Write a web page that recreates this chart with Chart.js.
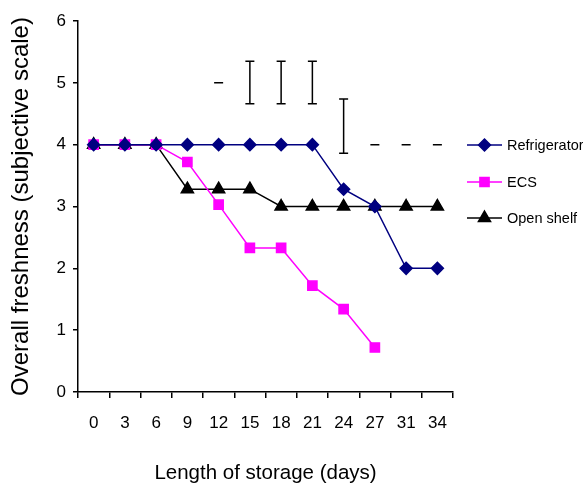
<!DOCTYPE html>
<html>
<head>
<meta charset="utf-8">
<script src="https://cdn.jsdelivr.net/npm/chart.js@4/dist/chart.umd.min.js"></script>
<style>
  body { margin: 0; background: #fff; }
  #wrap { width: 583px; height: 486px; }
</style>
</head>
<body>
<div id="wrap"><canvas id="chart"></canvas></div>
<script>
// storage days (x categories)
const days = ['0', '3', '6', '9', '12', '15', '18', '21', '24', '27', '31', '34'];

const refrigerator = [4, 4, 4, 4, 4, 4, 4, 4, 3.28, 3, 2, 2];
const ecs = [4, 4, 4, 3.72, 3.03, 2.33, 2.33, 1.72, 1.34, 0.72, null, null];
const openShelf = [4, 4, 4, 3.28, 3.28, 3.28, 3, 3, 3, 3, 3, 3];

// error bars drawn above the lines
const errLow = [null, null, null, null, 5, 4.66, 4.66, 4.66, 3.86, 4, 4, 4];
const errHigh = [null, null, null, null, 5, 5.35, 5.35, 5.35, 4.74, 4, 4, 4];

const sans = "'Liberation Sans', Arial, sans-serif";

const errorBars = {
  id: 'errorBars',
  afterDatasetsDraw(chart) {
    const ctx = chart.ctx;
    const xs = chart.scales.x, ys = chart.scales.y;
    ctx.save();
    ctx.strokeStyle = '#000';
    ctx.lineWidth = 1.5;
    for (let i = 0; i < days.length; i++) {
      if (errLow[i] == null) continue;
      const x = xs.getPixelForValue(i);
      const top = ys.getPixelForValue(errHigh[i]);
      const bot = ys.getPixelForValue(errLow[i]);
      ctx.beginPath();
      ctx.moveTo(x, top); ctx.lineTo(x, bot);
      ctx.moveTo(x - 4.5, top); ctx.lineTo(x + 4.5, top);
      ctx.moveTo(x - 4.5, bot); ctx.lineTo(x + 4.5, bot);
      ctx.stroke();
    }
    ctx.restore();
  }
};

// legend to the right of the plot, line + marker + label
const sideLegend = {
  id: 'sideLegend',
  afterDraw(chart) {
    const ctx = chart.ctx;
    const rows = [145, 182, 218];
    ctx.save();
    chart.data.datasets.forEach((ds, k) => {
      const y = rows[k];
      ctx.strokeStyle = ds.borderColor;
      ctx.lineWidth = ds.borderWidth;
      ctx.beginPath();
      ctx.moveTo(467, y); ctx.lineTo(502, y);
      ctx.stroke();
      ctx.fillStyle = ds.backgroundColor;
      ctx.strokeStyle = ds.borderColor;
      Chart.helpers.drawPoint(ctx, {
        pointStyle: ds.pointStyle, radius: ds.pointRadius, rotation: 0, borderWidth: 1
      }, 484.5, y);
      ctx.fillStyle = '#000';
      ctx.font = '14.5px ' + sans;
      ctx.textBaseline = 'middle';
      ctx.textAlign = 'left';
      ctx.fillText(ds.label, 507, y + 1);
    });
    ctx.restore();
  }
};

new Chart(document.getElementById('chart'), {
  type: 'line',
  data: {
    labels: days,
    datasets: [
      {
        label: 'Refrigerator',
        data: refrigerator,
        borderColor: '#000080',
        backgroundColor: '#000080',
        borderWidth: 1.5,
        pointStyle: 'rectRot',
        pointRadius: 6,
        tension: 0
      },
      {
        label: 'ECS',
        data: ecs,
        borderColor: '#FF00FF',
        backgroundColor: '#FF00FF',
        borderWidth: 1.5,
        pointStyle: 'rect',
        pointRadius: 6.5,
        tension: 0
      },
      {
        label: 'Open shelf',
        data: openShelf,
        borderColor: '#000000',
        backgroundColor: '#000000',
        borderWidth: 1.5,
        pointStyle: 'triangle',
        pointRadius: 7,
        tension: 0
      }
    ]
  },
  options: {
    responsive: true,
    maintainAspectRatio: false,
    animation: false,
    layout: { padding: { top: 21, right: 130, bottom: 0, left: 0 } },
    plugins: {
      legend: { display: false },
      tooltip: { enabled: false }
    },
    scales: {
      x: {
        offset: true,
        grid: { offset: true, drawOnChartArea: false, tickLength: 6, color: '#000', lineWidth: 1.5 },
        border: { color: '#000', width: 1.5 },
        ticks: { color: '#000', font: { family: sans, size: 17 }, padding: 15, maxRotation: 0 },
        title: {
          display: true,
          text: 'Length of storage (days)',
          color: '#000',
          font: { family: sans, size: 20.5 },
          padding: { top: 0, bottom: 0 }
        },
        afterFit(s) { s.height = 94; }
      },
      y: {
        min: 0,
        max: 6,
        ticks: { stepSize: 1, color: '#000', font: { family: sans, size: 17 }, padding: 7 },
        grid: { drawOnChartArea: false, tickLength: 5, color: '#000', lineWidth: 1.5 },
        border: { color: '#000', width: 1.5 },
        title: {
          display: true,
          text: 'Overall freshness (subjective scale)',
          color: '#000',
          font: { family: sans, size: 24 },
          padding: { top: 7, bottom: 0 }
        },
        afterFit(s) { s.width = 78; }
      }
    }
  },
  plugins: [errorBars, sideLegend]
});
</script>
</body>
</html>
